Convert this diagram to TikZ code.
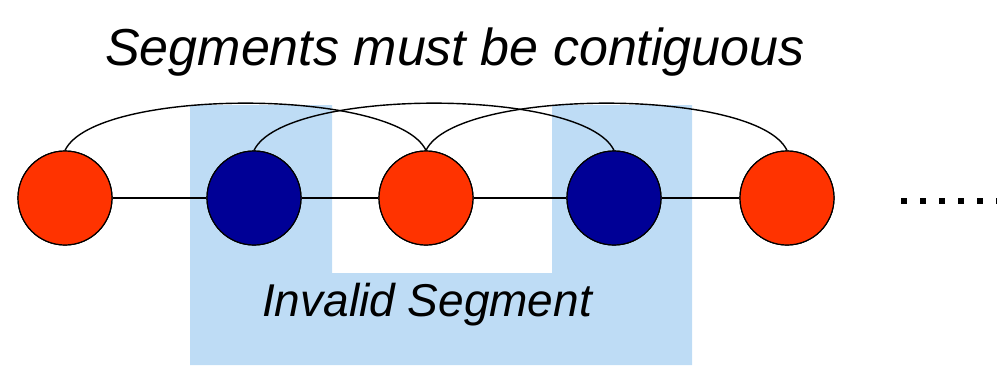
\documentclass[tikz,border=0pt]{standalone}
\usepackage{fontspec}
\setmainfont{Liberation Sans}
\definecolor{segred}{RGB}{255,51,0}
\definecolor{segblue}{RGB}{0,0,150}
\definecolor{segshade}{RGB}{190,220,245}
\tikzset{
  ball/.style={circle, draw=black, line width=1.2pt, minimum size=94pt, inner sep=0pt},
  redball/.style={ball, fill=segred},
  blueball/.style={ball, fill=segblue},
  link/.style={draw=black, line width=1.4pt},
  txt/.style={font=\itshape\fontsize{#1}{#1}\selectfont, inner sep=0pt, anchor=base}
}
\begin{document}
\begin{tikzpicture}[x=1pt,y=-1pt]
\useasboundingbox (0,0) rectangle (997,365);
% shaded invalid segment
\fill[segshade] (190,105) -- (332,105) -- (332,273) -- (552,273) -- (552,105) -- (692,105) -- (692,365) -- (190,365) -- cycle;
% circles (placed first to name them)
\node[redball]  (c1) at (65,198) {};
\node[blueball] (c2) at (254,198) {};
\node[redball]  (c3) at (426,198) {};
\node[blueball] (c4) at (614,198) {};
\node[redball]  (c5) at (787,198) {};
% chain
\draw[link] (c1) -- (c2);
\draw[link] (c2) -- (c3);
\draw[link] (c3) -- (c4);
\draw[link] (c4) -- (c5);
% arcs
\draw[link] (c1.north) .. controls +(30,-63) and +(-30,-63) .. (c3.north);
\draw[link] (c2.north) .. controls +(30,-63) and +(-30,-63) .. (c4.north);
\draw[link] (c3.north) .. controls +(30,-63) and +(-30,-63) .. (c5.north);
% redraw circles on top of lines
\node[redball]  at (c1) {};
\node[blueball] at (c2) {};
\node[redball]  at (c3) {};
\node[blueball] at (c4) {};
\node[redball]  at (c5) {};
% dots
\draw[line width=6pt, dash pattern=on 6pt off 13pt] (901,201) -- (1000,201);
% texts
\node[txt=52] (title) at (455,65) {Segments must be contiguous};
\node[txt=46] (inv) at (427,316) {Invalid Segment};
\end{tikzpicture}
\end{document}
